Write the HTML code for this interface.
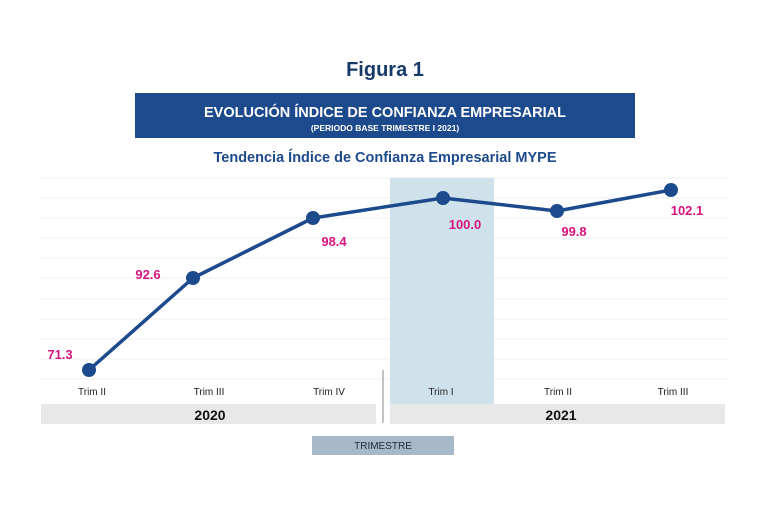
<!DOCTYPE html>
<html><head><style>
body{margin:0;background:#fff;width:768px;height:512px;overflow:hidden;font-family:"Liberation Sans",sans-serif}
</style></head><body>
<svg width="768" height="512" xmlns="http://www.w3.org/2000/svg" font-family="Liberation Sans, sans-serif">
<text x="385" y="76" text-anchor="middle" font-size="20" font-weight="bold" fill="#163a6a">Figura 1</text>
<rect x="135" y="93" width="500" height="45" fill="#1d4a8c"/>
<text x="385" y="117" text-anchor="middle" font-size="14.5" font-weight="bold" fill="#fff">EVOLUCIÓN ÍNDICE DE CONFIANZA EMPRESARIAL</text>
<text x="385" y="131" text-anchor="middle" font-size="8.5" font-weight="bold" fill="#fff">(PERIODO BASE TRIMESTRE I 2021)</text>
<text x="385" y="162" text-anchor="middle" font-size="14.5" font-weight="bold" fill="#1d4a8c">Tendencia Índice de Confianza Empresarial MYPE</text>
<g stroke="#efefef" stroke-width="1">
<line x1="40" y1="178" x2="728" y2="178"/><line x1="40" y1="198" x2="728" y2="198"/><line x1="40" y1="218" x2="728" y2="218"/><line x1="40" y1="238" x2="728" y2="238"/><line x1="40" y1="258" x2="728" y2="258"/><line x1="40" y1="278" x2="728" y2="278"/><line x1="40" y1="299" x2="728" y2="299"/><line x1="40" y1="319" x2="728" y2="319"/><line x1="40" y1="339" x2="728" y2="339"/><line x1="40" y1="359" x2="728" y2="359"/><line x1="40" y1="379" x2="728" y2="379"/>
</g>
<rect x="390" y="178" width="104" height="226" fill="#cfe2ec"/>
<polyline points="89,370 193,278 313,218 443,198 557,211 671,190" fill="none" stroke="#1d4a8c" stroke-width="3.5" stroke-linejoin="round"/>
<g fill="#1d4a8c"><circle cx="89" cy="370" r="7"/><circle cx="193" cy="278" r="7"/><circle cx="313" cy="218" r="7"/><circle cx="443" cy="198" r="7"/><circle cx="557" cy="211" r="7"/><circle cx="671" cy="190" r="7"/></g>
<g fill="#d4147f" font-size="13" font-weight="bold" text-anchor="middle">
<text x="60" y="359">71.3</text><text x="148" y="279">92.6</text><text x="334" y="246">98.4</text><text x="465" y="229">100.0</text><text x="574" y="236">99.8</text><text x="687" y="215">102.1</text>
</g>
<g fill="#222" font-size="10" text-anchor="middle">
<text x="92" y="395">Trim II</text><text x="209" y="395">Trim III</text><text x="329" y="395">Trim IV</text><text x="441" y="395">Trim I</text><text x="558" y="395">Trim II</text><text x="673" y="395">Trim III</text>
</g>
<rect x="41" y="404" width="335" height="20" fill="#e8e8e8"/>
<rect x="390" y="404" width="335" height="20" fill="#e8e8e8"/>
<line x1="383" y1="370" x2="383" y2="423" stroke="#888" stroke-width="1"/>
<text x="210" y="420" text-anchor="middle" font-size="14" font-weight="bold" fill="#111">2020</text>
<text x="561" y="420" text-anchor="middle" font-size="14" font-weight="bold" fill="#111">2021</text>
<rect x="312" y="436" width="142" height="19" fill="#a7b9c9"/>
<text x="383" y="449" text-anchor="middle" font-size="10" fill="#1b2a3a">TRIMESTRE</text>
</svg>
</body></html>
